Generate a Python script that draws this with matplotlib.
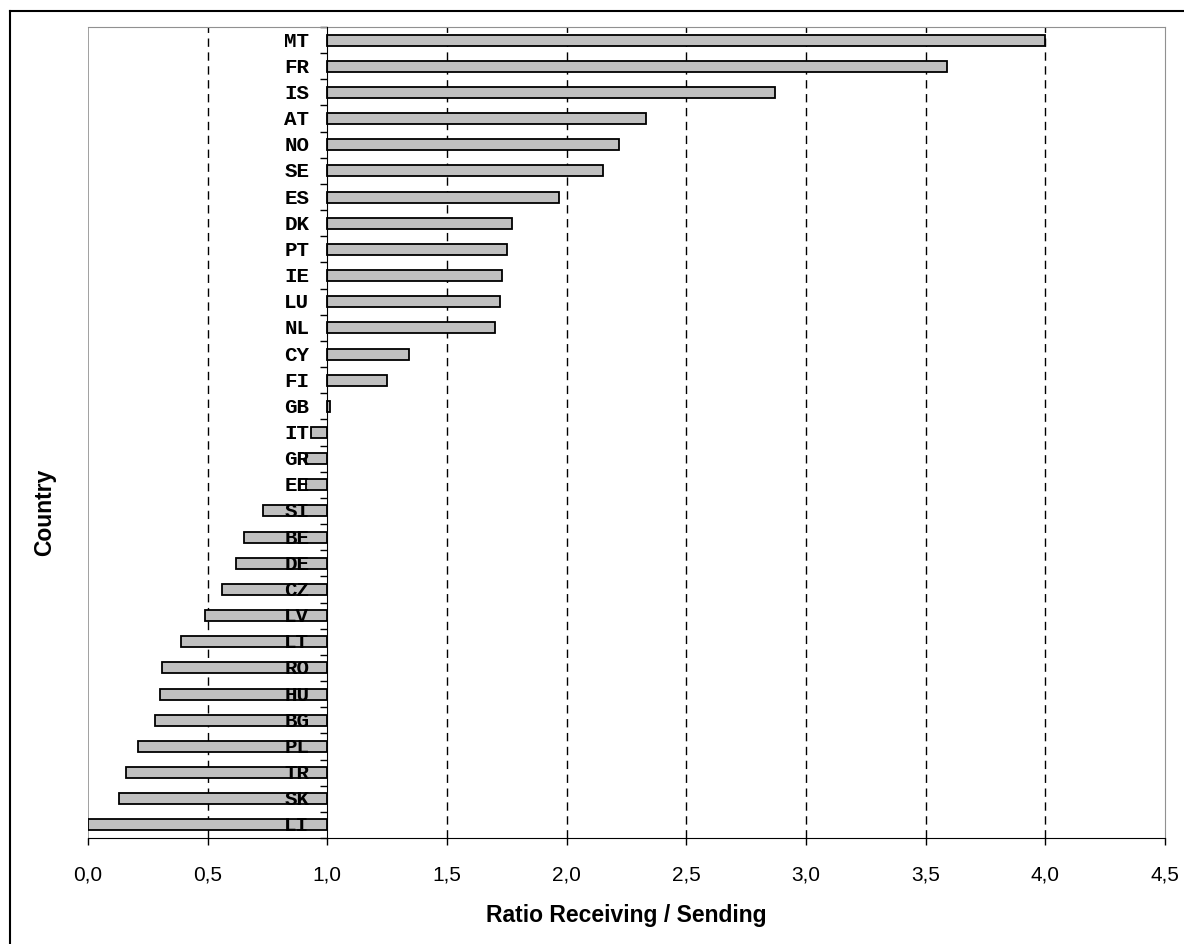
import matplotlib.pyplot as plt
import numpy as np
from matplotlib.lines import Line2D
from matplotlib.ticker import FuncFormatter

# Ratio of receiving to sending, per country
countries = ['MT', 'FR', 'IS', 'AT', 'NO', 'SE', 'ES', 'DK', 'PT', 'IE', 'LU',
             'NL', 'CY', 'FI', 'GB', 'IT', 'GR', 'EE', 'SI', 'BE', 'DE', 'CZ',
             'LV', 'LT', 'RO', 'HU', 'BG', 'PL', 'TR', 'SK', 'LI']
ratio = [4.00, 3.59, 2.87, 2.33, 2.22, 2.15, 1.97, 1.77, 1.75, 1.73, 1.72,
         1.70, 1.34, 1.25, 1.01, 0.93, 0.91, 0.91, 0.73, 0.65, 0.62, 0.56,
         0.49, 0.39, 0.31, 0.30, 0.28, 0.21, 0.16, 0.13, 0.00]
base = 1.0
xticks = [0.0, 0.5, 1.0, 1.5, 2.0, 2.5, 3.0, 3.5, 4.0, 4.5]

plt.rcParams['font.family'] = ['Liberation Sans', 'DejaVu Sans']

fig = plt.figure(figsize=(11.84, 9.45), dpi=100)
ax = fig.add_axes([88 / 1184, 106 / 945, 1077 / 1184, 811 / 945])

y = np.arange(len(countries))
vals = np.array(ratio)

# dashed gridlines (behind bars), not on the frame or the 1.0 axis
for xv in xticks:
    if xv not in (0.0, base, 4.5):
        ax.axvline(xv, color='black', lw=1, ls=(0, (6, 4)), zorder=0)

ax.barh(y, vals - base, left=base, height=0.42, color='#c0c0c0',
        edgecolor='black', linewidth=1.3, zorder=2)

for i, c in enumerate(countries):
    ax.annotate(c, xy=(base, i), xytext=(-13, 0), textcoords='offset points',
                ha='right', va='center', fontsize=15, fontweight='bold',
                family='Liberation Mono', zorder=4)

ax.set_xlim(0, 4.5)
ax.set_ylim(len(countries) - 0.5, -0.5)

# category axis crosses at 1.0
ax.spines['left'].set_position(('data', base))
ax.spines['left'].set_color('black')
ax.spines['left'].set_zorder(3)
ax.spines['bottom'].set_color('black')
ax.spines['top'].set_color('#909090')
ax.spines['right'].set_color('#909090')
ax.axvline(0, color='#909090', lw=1.2, zorder=1)

ax.set_yticks(np.arange(-0.5, len(countries), 1))
ax.set_yticklabels([])
ax.tick_params(axis='y', direction='out', length=5, width=1, color='black')

ax.set_xticks(xticks)
ax.xaxis.set_major_formatter(FuncFormatter(lambda v, p: f'{v:.1f}'.replace('.', ',')))
ax.tick_params(axis='x', direction='out', length=5, width=1, labelsize=15, pad=14)

ax.set_xlabel('Ratio Receiving / Sending', fontsize=16.5, fontweight='bold', labelpad=14)
fig.text(45 / 1184, 433 / 945, 'Country', rotation=90, ha='center', va='center',
         fontsize=16.5, fontweight='bold')

# outer chart frame (cut off at right and bottom)
fig.add_artist(Line2D([10 / 1184, 10 / 1184], [0, 1 - 12 / 945], color='black', lw=1.5,
                      transform=fig.transFigure))
fig.add_artist(Line2D([10 / 1184, 1], [1 - 12 / 945, 1 - 12 / 945], color='black', lw=1.5,
                      transform=fig.transFigure))

fig.savefig('out.png', dpi=100)
